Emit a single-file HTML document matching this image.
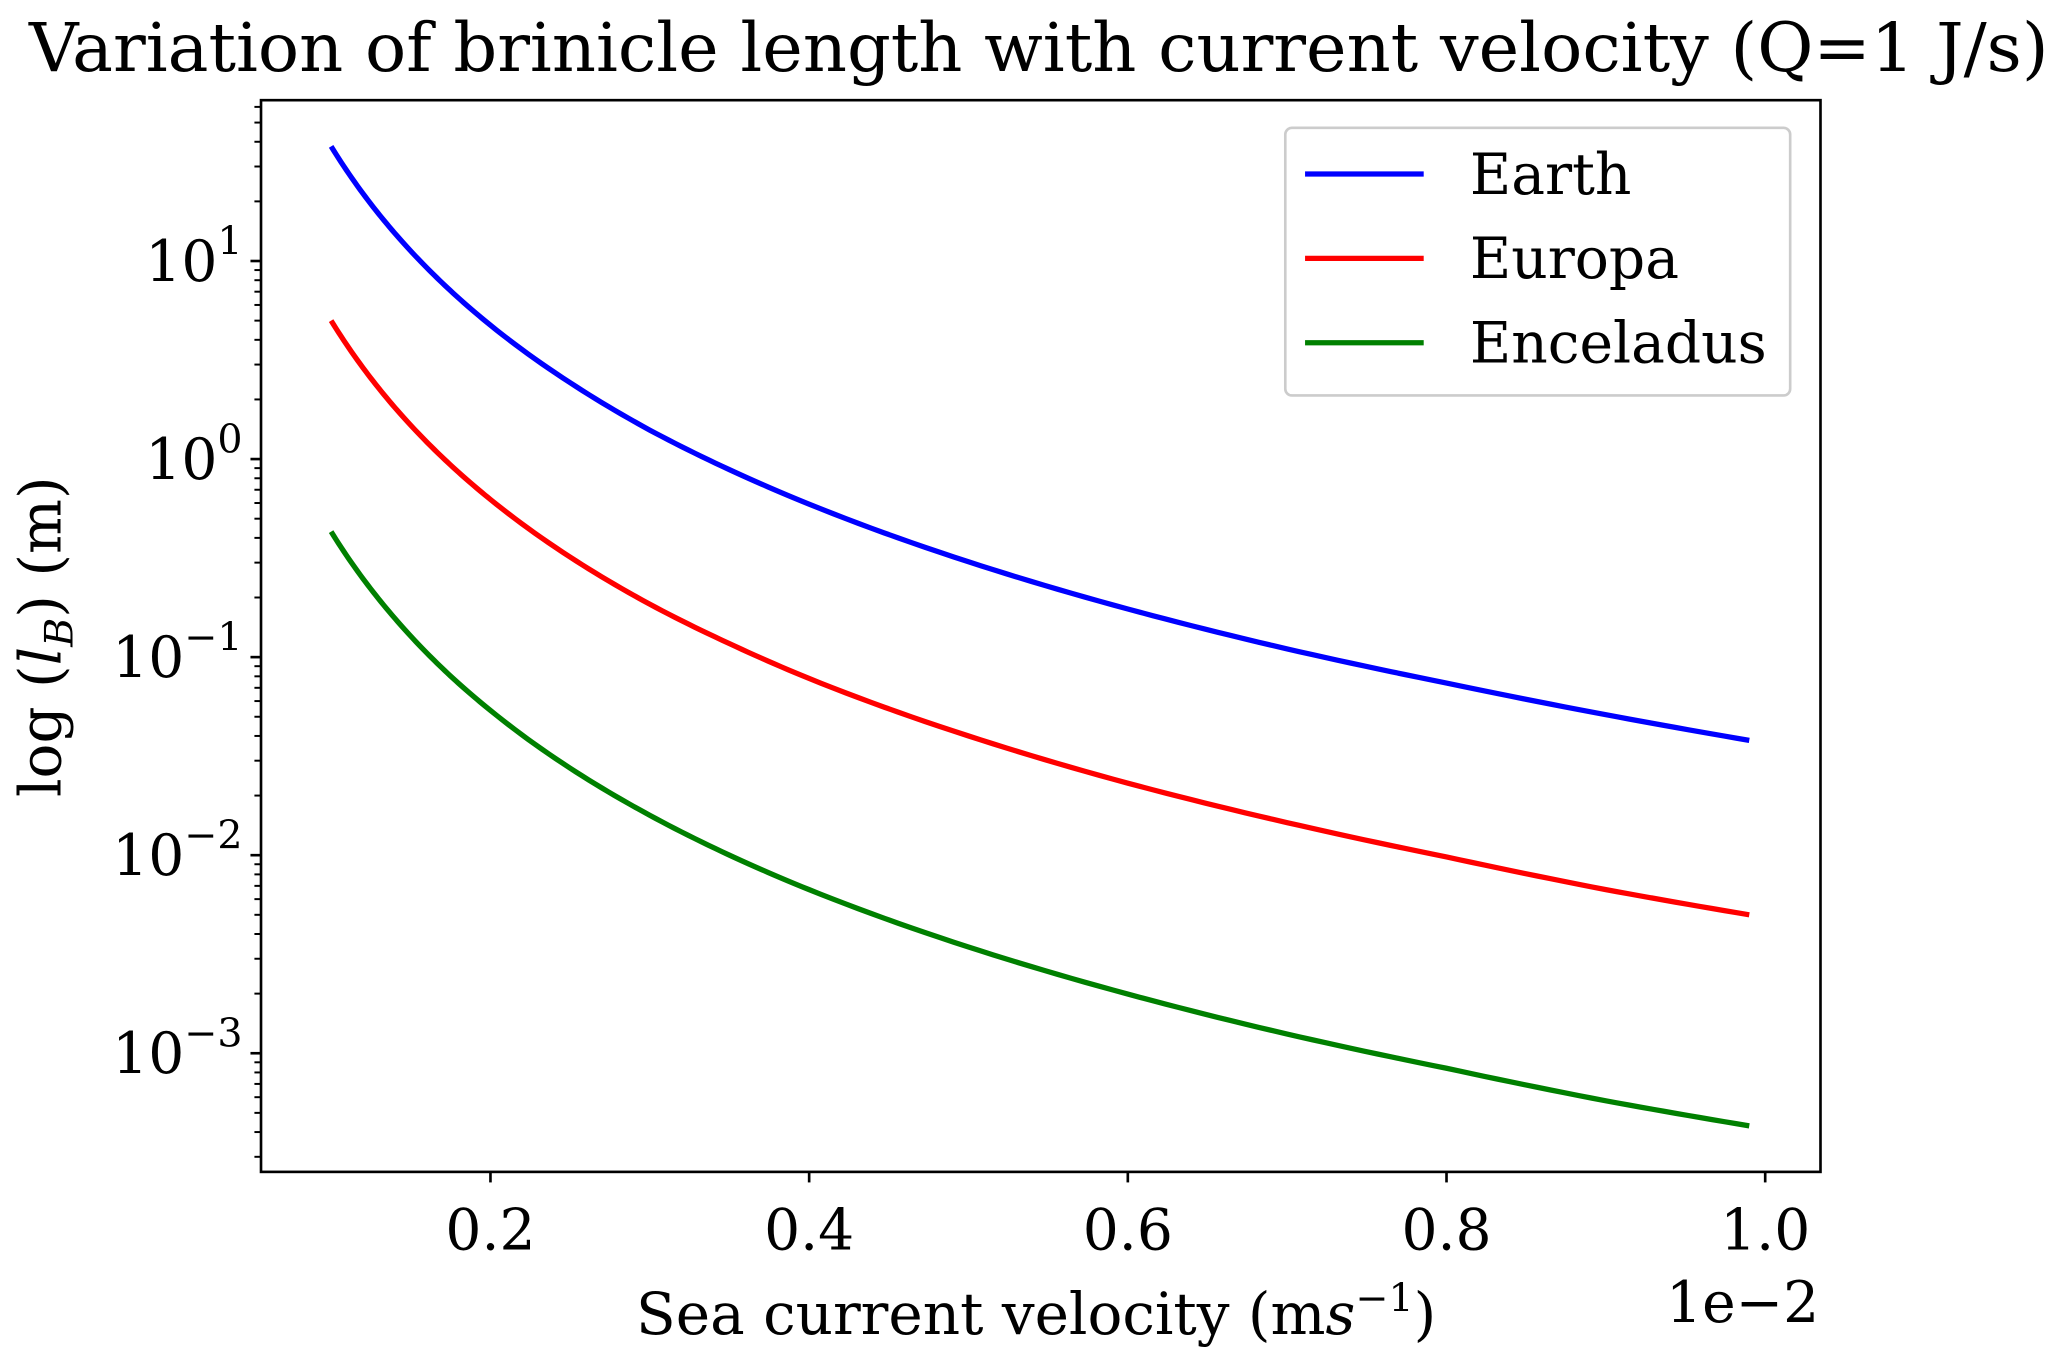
<!DOCTYPE html>
<html><head><meta charset="utf-8"><style>
html,body{margin:0;padding:0;background:#fff}
svg{display:block}
text{font-family:"DejaVu Serif","Liberation Serif",serif;fill:#000}
</style></head><body>
<svg id="chart" width="2067" height="1365" viewBox="0 0 1568 1035.5" preserveAspectRatio="none" xmlns="http://www.w3.org/2000/svg">
<text x="788" y="54" font-size="51" text-anchor="middle" textLength="1532" lengthAdjust="spacingAndGlyphs">Variation of brinicle length with current velocity (Q=1 J/s)</text>
<g id="plot"></g>
<text x="786" y="1012" font-size="44" text-anchor="middle">Sea current velocity (m<tspan font-style="italic">s</tspan><tspan font-size="30" dy="-17">−1</tspan><tspan dy="17">)</tspan></text>
<text x="1380" y="1003" font-size="43" text-anchor="end">1e−2</text>
<text transform="translate(46,483) rotate(-90)" font-size="44" text-anchor="middle">log (<tspan font-style="italic">l</tspan><tspan font-style="italic" font-size="30" dy="9">B</tspan><tspan dy="-9">) (m)</tspan></text>
<g>
<rect x="975" y="97" width="383" height="203" rx="5" fill="#fff" stroke="#ccc" stroke-width="2"/>
<line x1="990" y1="132" x2="1080" y2="132" stroke="#0000ff" stroke-width="4"/>
<text x="1115" y="147" font-size="43">Earth</text>
<line x1="990" y1="196" x2="1080" y2="196" stroke="#ff0000" stroke-width="4"/>
<text x="1115" y="211" font-size="43">Europa</text>
<line x1="990" y1="260" x2="1080" y2="260" stroke="#008000" stroke-width="4"/>
<text x="1115" y="275" font-size="43">Enceladus</text>
</g>
</svg>
<script>
const velocities=[0.1,0.12,0.14,0.16,0.18,0.2,0.25,0.3,0.35,0.4,0.5,0.6,0.7,0.8,0.9,0.99];
const earthLen=[37.9,21.9,13.8,9.25,6.5,4.74,2.43,1.40,0.884,0.592,0.303,0.175,0.110,0.074,0.0512,0.038];
const europaLen=[5.0,2.89,1.82,1.22,0.857,0.625,0.32,0.185,0.117,0.078,0.040,0.0231,0.0146,0.0098,0.0067,0.0050];
const enceladusLen=[0.43,0.249,0.157,0.105,0.0737,0.0538,0.0275,0.0159,0.0100,0.0067,0.00344,0.00199,0.00125,0.00084,0.000575,0.00043];
const xTicks=[0.2,0.4,0.6,0.8,1.0];
const xTickLabels=["0.2","0.4","0.6","0.8","1.0"];
const yDecades=[-3,-2,-1,0,1];
const yTickLabels=["−3","−2","−1","0","1"];

const L=198,R=1381,T=76,B=889;
const X0=0.056,X1=1.0347,Y0=-3.599,Y1=1.812;
function xs(v){return L+(v-X0)/(X1-X0)*(R-L);}
function ys(v){return B-(Math.log10(v)-Y0)/(Y1-Y0)*(B-T);}
const NS="http://www.w3.org/2000/svg";
const g=document.getElementById('plot');
function mk(t,a){const e=document.createElementNS(NS,t);for(const k in a)e.setAttribute(k,a[k]);g.appendChild(e);return e;}

for(let d=-4;d<=1;d++){for(let m=2;m<=9;m++){const v=m*Math.pow(10,d);const y=ys(v);if(y<T||y>B)continue;
const t=mk('line',{x1:L-5,x2:L,y1:y,y2:y,stroke:'#000','stroke-width':1.5});

}}
yDecades.forEach((d,i)=>{const y=ys(Math.pow(10,d));
const t=mk('line',{x1:L-8,x2:L,y1:y,y2:y,stroke:'#000','stroke-width':2});


const tx=mk('text',{x:L-14,y:y+15,'font-size':43,'text-anchor':'end'});


tx.innerHTML='10<tspan font-size="30" dy="-20">'+yTickLabels[i]+'</tspan>';});
xTicks.forEach((v,i)=>{const x=xs(v);
const t=mk('line',{x1:x,x2:x,y1:B,y2:B+8,stroke:'#000','stroke-width':2});


const tx=mk('text',{x:x,y:B+59,'font-size':43,'text-anchor':'middle'});


tx.textContent=xTickLabels[i];});

function pathFor(vals){const pts=[];
for(let i=0;i<velocities.length-1;i++){const a=Math.log(velocities[i]),b=Math.log(velocities[i+1]),la=Math.log(vals[i]),lb=Math.log(vals[i+1]);
const n=12;for(let k=0;k<n;k++){const t=k/n;pts.push([xs(Math.exp(a+(b-a)*t)),ys(Math.exp(la+(lb-la)*t))]);}}
const li=velocities.length-1;pts.push([xs(velocities[li]),ys(vals[li])]);
return 'M'+pts.map(p=>p[0].toFixed(2)+','+p[1].toFixed(2)).join(' L');}
[[earthLen,'#0000ff','earth-line'],[europaLen,'#ff0000','europa-line'],[enceladusLen,'#008000','enceladus-line']].forEach(s=>{
const e=mk('path',{d:pathFor(s[0]),fill:'none',stroke:s[1],'stroke-width':4,'stroke-linejoin':'round'});

});
const fr=mk('rect',{x:L,y:T,width:R-L,height:B-T,fill:'none',stroke:'#000','stroke-width':2});


</script>
</body></html>
